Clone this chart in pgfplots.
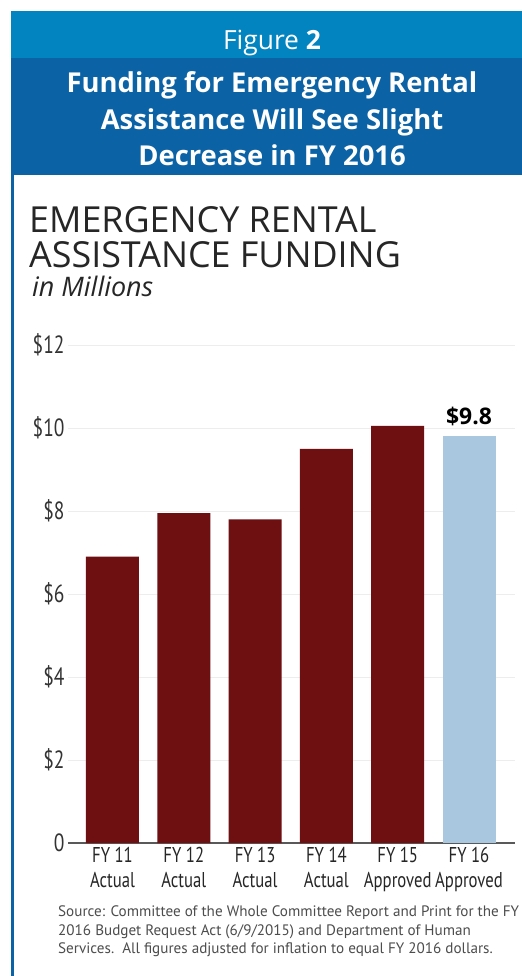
\documentclass[border=0pt]{standalone}
\usepackage{fontspec}
\setmainfont{Open Sans}
\newfontfamily\cond[FakeStretch=0.78]{PT Sans}
\newfontfamily\ptsans{PT Sans}
\usepackage{pgfplots}
\pgfplotsset{compat=1.18}
\definecolor{hdrlight}{HTML}{0284C1}
\definecolor{hdrdark}{HTML}{0B63A6}
\definecolor{barred}{HTML}{6E0F12}
\definecolor{barblue}{HTML}{A9C8E0}
\definecolor{txtgray}{HTML}{262626}
\definecolor{srcgray}{HTML}{4D4D4D}
\begin{document}
\begin{tikzpicture}
\begin{scope}[x=1bp,y=-1bp]
\path[use as bounding box, fill=white] (0,0) rectangle (522,976);
\fill[hdrlight] (11,11) rectangle (522,58);
\fill[hdrdark] (11,58) rectangle (522,175);
\fill[hdrdark] (11,58) rectangle (13.5,976);
\node[white, anchor=base, font=\fontsize{26.5}{30}\selectfont] at (272,49) {Figure \textbf{2}};
\node[white, anchor=base, font=\bfseries\fontsize{27.5}{30}\selectfont] at (272,92) {Funding for Emergency Rental};
\node[white, anchor=base, font=\bfseries\fontsize{27.5}{30}\selectfont] at (272,129) {Assistance Will See Slight};
\node[white, anchor=base, font=\bfseries\fontsize{27.5}{30}\selectfont] at (272,165) {Decrease in FY 2016};
\node[txtgray, anchor=base west, inner sep=0, font=\fontsize{36}{40}\selectfont] at (29,232) {EMERGENCY RENTAL};
\node[txtgray, anchor=base west, inner sep=0, font=\fontsize{36}{40}\selectfont] at (29,267) {ASSISTANCE FUNDING};
\node[txtgray, anchor=base west, inner sep=0, font=\itshape\fontsize{27}{30}\selectfont] at (32,296) {in Millions};
\node[srcgray, anchor=base west, inner sep=0, font=\ptsans\fontsize{15.2}{18}\selectfont] at (58,916) {Source: Committee of the Whole Committee Report and Print for the FY};
\node[srcgray, anchor=base west, inner sep=0, font=\ptsans\fontsize{15.2}{18}\selectfont] at (58,935) {2016 Budget Request Act (6/9/2015) and Department of Human};
\node[srcgray, anchor=base west, inner sep=0, font=\ptsans\fontsize{15.2}{18}\selectfont] at (58,953) {Services.\ \ All figures adjusted for inflation to equal FY 2016 dollars.};
\end{scope}
\begin{axis}[
  at={(68bp,-843bp)}, anchor=south west,
  width=447bp, height=498bp, scale only axis,
  xmin=-0.624, xmax=5.645, ymin=0, ymax=12,
  axis lines*=left,
  x axis line style={draw=black!65, line width=1.2bp},
  y axis line style={draw=none},
  major tick length=0pt,
  ymajorgrids, grid style={black!7, line width=1bp},
  ytick={0,2,4,6,8,10,12},
  yticklabels={0,\$2,\$4,\$6,\$8,\$10,\$12},
  yticklabel style={font=\cond\fontsize{25}{25}\selectfont, text=black!80},
  xtick={0,1,2,3,4,5},
  xticklabels={FY 11\\Actual,FY 12\\Actual,FY 13\\Actual,FY 14\\Actual,FY 15\\Approved,FY 16\\Approved},
  xticklabel style={align=center, font=\cond\fontsize{21.5}{24.5}\selectfont, text=black!85, yshift=-1bp},
  /pgf/number format/assume math mode=true,
  ybar, bar width=53bp, bar shift=0pt,
  clip=false,
]
\addplot[fill=barred, draw=none] coordinates {(0,6.9) (1,7.95) (2,7.8) (3,9.5) (4,10.05)};
\addplot[fill=barblue, draw=none,
  nodes near coords={\$\pgfmathprintnumber[fixed,precision=1]{\pgfplotspointmeta}},
  nodes near coords style={font=\bfseries\fontsize{23}{24}\selectfont, text=black, yshift=7bp}]
  coordinates {(5,9.8)};
\end{axis}
\end{tikzpicture}
\end{document}
